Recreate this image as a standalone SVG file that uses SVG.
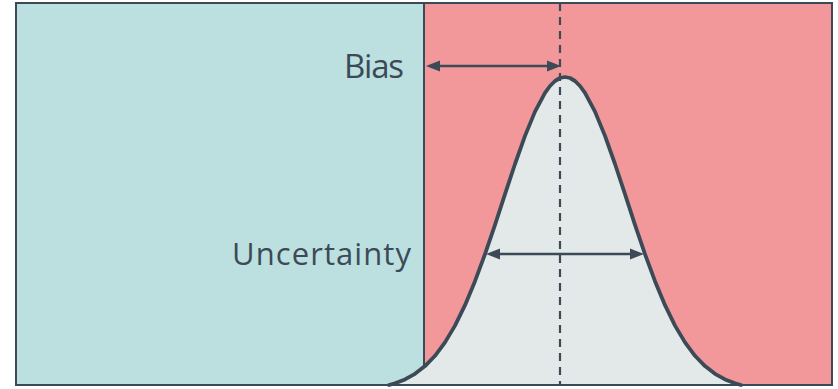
<svg xmlns="http://www.w3.org/2000/svg" width="838" height="389" viewBox="0 0 838 389">
  <style>
    .ink { stroke: #3c4a58; fill: none; }
    .lbl { font-family: "Open Sans", Lato, "Liberation Sans", sans-serif; font-weight: 400; fill: #3c4a58; text-anchor: end; }
    .arrow { stroke: #3c4a58; stroke-width: 2.5; fill: none; marker-start: url(#head); marker-end: url(#head); }
  </style>
  <defs>
    <marker id="head" markerUnits="userSpaceOnUse" markerWidth="14" markerHeight="12" refX="4" refY="6" orient="auto-start-reverse">
      <path d="M0,0.5 L14,6 L0,11.5 z" fill="#3c4a58"/>
    </marker>
  </defs>
  <g id="regions">
    <rect id="left-region" x="16" y="3" width="408" height="382" fill="#bce0df"/>
    <rect id="right-region" x="424" y="3" width="408" height="382" fill="#f2989b"/>
    <line class="ink" x1="424" y1="3" x2="424" y2="385" stroke-width="2"/>
  </g>
  <g id="distribution">
    <path d="M389,385 L395,383.3 L405,379.4 L415,373.8 L425,366.1 L435,355.8 L445,342.4 L455,325.6 L465,305.2 L475,281.2 L485,254.2 L495,224.8 L505,194.2 L515,164 L525,135.9 L535,111.6 L545,92.9 L550,86 L555,81 L560,78 L565,77 L570,78 L575,81 L580,86 L585,92.9 L595,111.6 L605,135.9 L615,164 L625,194.2 L635,224.8 L645,254.2 L655,281.2 L665,305.2 L675,325.6 L685,342.4 L695,355.8 L705,366.1 L715,373.8 L725,379.4 L735,383.3 L741,385 Z" fill="#e3e9e9"/>
    <line class="ink" x1="560" y1="3" x2="560" y2="385" stroke-width="2.2" stroke-dasharray="8 6"/>
    <path class="ink" stroke-width="3.8" stroke-linejoin="round" stroke-linecap="round" d="M389,385 L395,383.3 L405,379.4 L415,373.8 L425,366.1 L435,355.8 L445,342.4 L455,325.6 L465,305.2 L475,281.2 L485,254.2 L495,224.8 L505,194.2 L515,164 L525,135.9 L535,111.6 L545,92.9 L550,86 L555,81 L560,78 L565,77 L570,78 L575,81 L580,86 L585,92.9 L595,111.6 L605,135.9 L615,164 L625,194.2 L635,224.8 L645,254.2 L655,281.2 L665,305.2 L675,325.6 L685,342.4 L695,355.8 L705,366.1 L715,373.8 L725,379.4 L735,383.3 L741,385"/>
  </g>
  <g id="frame">
    <rect class="ink" x="16" y="3" width="816" height="382" stroke-width="2"/>
  </g>
  <g id="connectors">
    <line class="arrow" x1="436" y1="66" x2="551" y2="66"/>
    <line class="arrow" x1="496" y1="254" x2="634" y2="254"/>
  </g>
  <g id="bias-label">
    <text class="lbl" x="404" y="78" font-size="33" textLength="60" lengthAdjust="spacing">Bias</text>
  </g>
  <g id="uncertainty-label">
    <text class="lbl" x="411" y="265" font-size="31" textLength="179" lengthAdjust="spacing">Uncertainty</text>
  </g>
</svg>
